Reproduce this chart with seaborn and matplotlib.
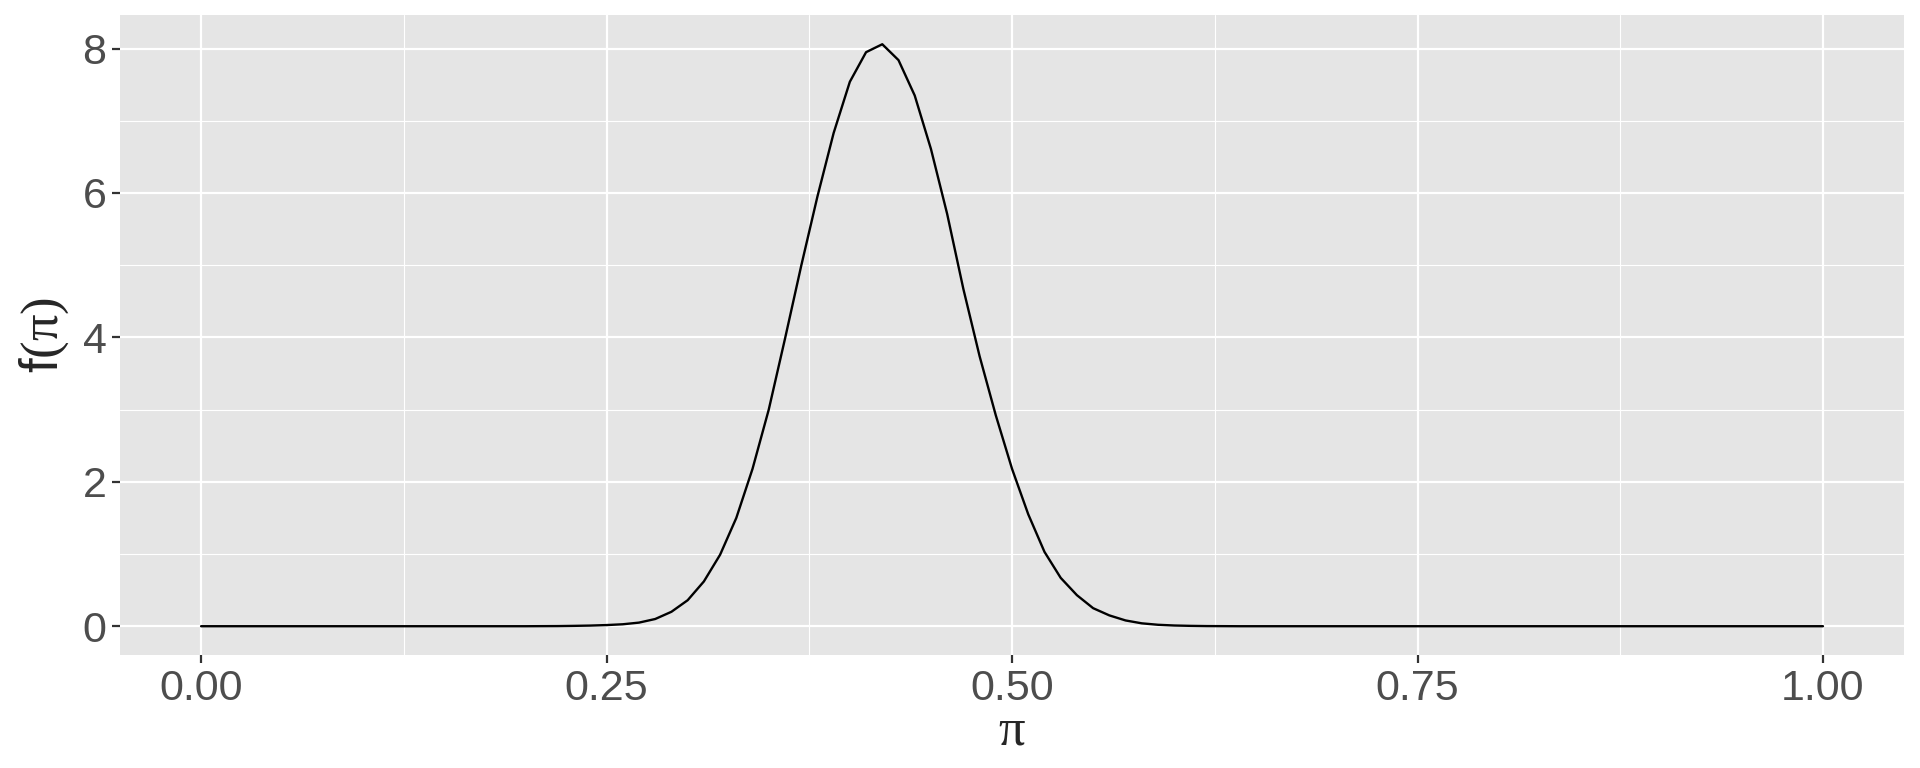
import numpy as np
import pandas as pd
import matplotlib
matplotlib.use("Agg")
import matplotlib.pyplot as plt
import seaborn as sns

# grid of pi values, step 0.01
pi_vals = [round(i * 0.01, 2) for i in range(101)]

# density, 0.00 .. 1.00
dens_low = [0.0] * 21 + [0.001, 0.002, 0.005, 0.009]          # 0.00 - 0.24
dens_mid = [0.016, 0.027, 0.05, 0.10, 0.20, 0.36, 0.62, 0.99, 1.50, 2.18,
            3.00, 3.98, 4.99, 5.95, 6.83, 7.54, 7.95, 8.06, 7.84, 7.35,
            6.61, 5.71, 4.67, 3.74, 2.92, 2.18, 1.55, 1.03, 0.67, 0.43,
            0.25, 0.15, 0.08, 0.04, 0.02, 0.01]                   # 0.25 - 0.60
dens_high = [0.005, 0.002, 0.001] + [0.0] * 37                    # 0.61 - 1.00
density = dens_low + dens_mid + dens_high

x_ticks = [0.0, 0.25, 0.5, 0.75, 1.0]
x_ticklabels = ["0.00", "0.25", "0.50", "0.75", "1.00"]
y_ticks = [0, 2, 4, 6, 8]


def main():
    df = pd.DataFrame({"pi": pi_vals, "f": density})

    sns.set_style("darkgrid", {"axes.facecolor": "#E5E5E5", "grid.color": "white"})
    plt.rcParams["font.family"] = ["Liberation Sans", "DejaVu Sans"]
    plt.rcParams["mathtext.fontset"] = "custom"
    plt.rcParams["mathtext.rm"] = "Liberation Serif"
    plt.rcParams["mathtext.it"] = "Liberation Serif"

    fig = plt.figure(figsize=(9.6, 3.84), dpi=200)
    ax = fig.add_axes([0.0625, 0.147, 0.9292, 0.833])

    sns.lineplot(data=df, x="pi", y="f", color="black", linewidth=0.85, ax=ax)

    ax.set_xlim(-0.05, 1.05)
    ax.set_ylim(-0.40, 8.46)
    ax.set_xticks(x_ticks)
    ax.set_xticklabels(x_ticklabels)
    ax.set_yticks(y_ticks)
    ax.set_xticks([0.125, 0.375, 0.625, 0.875], minor=True)
    ax.set_yticks([1, 3, 5, 7], minor=True)

    ax.grid(which="major", color="white", linewidth=0.8)
    ax.grid(which="minor", color="white", linewidth=0.4)
    for s in ax.spines.values():
        s.set_visible(False)

    ax.tick_params(which="major", length=2.9, width=0.8, color="#333333",
                   labelsize=15.5, labelcolor="#4D4D4D", pad=2, bottom=True, left=True)
    ax.tick_params(which="minor", length=0)

    ax.set_xlabel(r"$\pi$", fontsize=19, labelpad=-1)
    ax.set_ylabel(r"f$(\pi)$", fontsize=19, labelpad=4)

    fig.savefig("out.png", dpi=200)


if __name__ == "__main__":
    main()
